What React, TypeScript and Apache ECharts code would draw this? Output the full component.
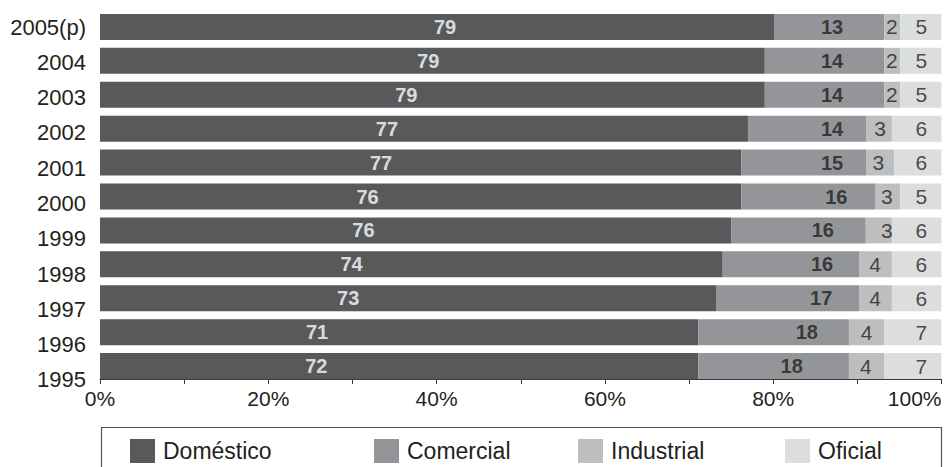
import React, { useEffect, useRef } from "react";
import * as echarts from "echarts";

// Categories bottom (1995) to top (2005(p))
const years = ["1995", "1996", "1997", "1998", "1999", "2000", "2001", "2002", "2003", "2004", "2005(p)"];
const seriesNames = ["Doméstico", "Comercial", "Industrial", "Oficial"];

// Bar widths (% share)
const domestico = [71.1, 71.1, 73.2, 74.0, 75.0, 76.2, 76.2, 77.0, 79.0, 79.0, 80.1];
const comercial = [17.9, 17.9, 17.0, 16.2, 16.0, 15.9, 14.9, 14.1, 14.2, 14.2, 13.1];
const industrial = [4.2, 4.2, 3.9, 3.9, 3.1, 3.0, 3.3, 3.0, 1.9, 1.9, 1.9];
const oficial = [6.8, 6.8, 5.9, 5.9, 5.9, 4.9, 5.6, 5.9, 4.9, 4.9, 4.9];

// Printed labels
const domLabels = [72, 71, 73, 74, 76, 76, 77, 77, 79, 79, 79];
const comLabels = [18, 18, 17, 16, 16, 16, 15, 14, 14, 14, 13];
const indLabels = [4, 4, 4, 4, 3, 3, 3, 3, 2, 2, 2];
const ofiLabels = [7, 7, 6, 6, 6, 5, 6, 6, 5, 5, 5];

// Where each printed label sits along the axis (%)
const domLabelAt = [25.7, 25.8, 29.5, 29.9, 31.3, 31.8, 33.4, 34.1, 36.4, 39.0, 41.0];
const comLabelAt = [82.2, 84.0, 85.7, 85.8, 85.9, 87.5, 87.0, 87.0, 87.0, 87.0, 87.0];
const indLabelAt = [91.0, 91.1, 92.1, 92.1, 93.5, 93.5, 92.5, 92.7, 94.1, 94.1, 94.1];
const ofiLabelAt = [97.6, 97.6, 97.6, 97.6, 97.6, 97.6, 97.6, 97.6, 97.6, 97.6, 97.6];

const tickLabels = ["0%", "20%", "40%", "60%", "80%", "100%"];

const colors = ["#58595b", "#939598", "#bcbec0", "#dcdddf"];
const FONT = "'Liberation Sans', Arial, sans-serif";
const TXT = "#231f20";

export default function App() {
  const ref = useRef<HTMLDivElement>(null);
  useEffect(() => {
    if (!ref.current) return;
    const chart = echarts.init(ref.current, null, { renderer: "svg" });
    const values = [domestico, comercial, industrial, oficial];
    const bars = seriesNames.map((name, i) => ({
      name,
      type: "bar",
      stack: "total",
      xAxisIndex: 0,
      yAxisIndex: 0,
      barWidth: 26,
      itemStyle: { color: colors[i] },
      data: values[i],
    }));
    const labelSets = [
      { at: domLabelAt, txt: domLabels, color: "#ffffff", weight: "bold", size: 20 },
      { at: comLabelAt, txt: comLabels, color: TXT, weight: "bold", size: 20 },
      { at: indLabelAt, txt: indLabels, color: TXT, weight: "normal", size: 21 },
      { at: ofiLabelAt, txt: ofiLabels, color: TXT, weight: "normal", size: 21 },
    ];
    const labelSeries = labelSets.map((s) => ({
      type: "scatter",
      xAxisIndex: 0,
      yAxisIndex: 0,
      symbolSize: 1,
      itemStyle: { color: "rgba(0,0,0,0)" },
      silent: true,
      z: 10,
      data: s.at.map((x, i) => [x, i, s.txt[i]]),
      label: {
        show: true,
        position: "inside",
        formatter: (p: any) => String(p.value[2]),
        color: s.color,
        fontWeight: s.weight,
        fontSize: s.size,
        fontFamily: FONT,
        textBorderWidth: 0,
      },
    }));
    const legendLefts = [130, 374, 578, 785];
    const legends = seriesNames.map((n, i) => ({
      data: [n],
      left: legendLefts[i],
      top: 439,
      padding: 0,
      icon: "rect",
      itemWidth: 25,
      itemHeight: 24,
      selectedMode: false,
      textStyle: { fontSize: 23, color: TXT, fontFamily: FONT, padding: [0, 0, 0, 3] },
    }));
    chart.setOption({
      animation: false,
      textStyle: { fontFamily: FONT },
      grid: [
        { left: 100, right: 7.5, top: 10, bottom: 84 },
        { left: 94, right: 7.5, top: 9.4, bottom: 69.4 },
      ],
      xAxis: [
        {
          type: "value",
          gridIndex: 0,
          min: 0,
          max: 100,
          interval: 10,
          offset: -4,
          axisLine: { show: true, lineStyle: { color: "#3a3a3a", width: 1 } },
          axisTick: { show: true, length: 5, lineStyle: { color: "#3a3a3a" } },
          splitLine: { show: false },
          axisLabel: {
            margin: 9,
            fontSize: 21,
            color: TXT,
            fontFamily: FONT,
            alignMaxLabel: "right",
            formatter: (v: number) => (v % 20 === 0 ? tickLabels[v / 20] : ""),
          },
        },
        { type: "value", gridIndex: 1, show: false, min: 0, max: 100 },
      ],
      yAxis: [
        {
          type: "category",
          gridIndex: 0,
          data: years,
          axisLine: { show: false },
          axisTick: { show: false },
          axisLabel: { show: false },
        },
        {
          type: "category",
          gridIndex: 1,
          data: years,
          axisLine: { show: false },
          axisTick: { show: false },
          axisLabel: { show: true, fontSize: 22, color: TXT, fontFamily: FONT, margin: 8 },
        },
      ],
      legend: legends,
      graphic: [
        {
          type: "rect",
          shape: { x: 101.5, y: 427.5, width: 840, height: 60 },
          style: { fill: "none", stroke: "#555555", lineWidth: 1.2 },
          silent: true,
        },
      ],
      series: [...bars, ...labelSeries],
    });
    return () => chart.dispose();
  }, []);
  return <div ref={ref} style={{ width: 949, height: 467, position: "absolute", left: 0, top: 0 }} />;
}
